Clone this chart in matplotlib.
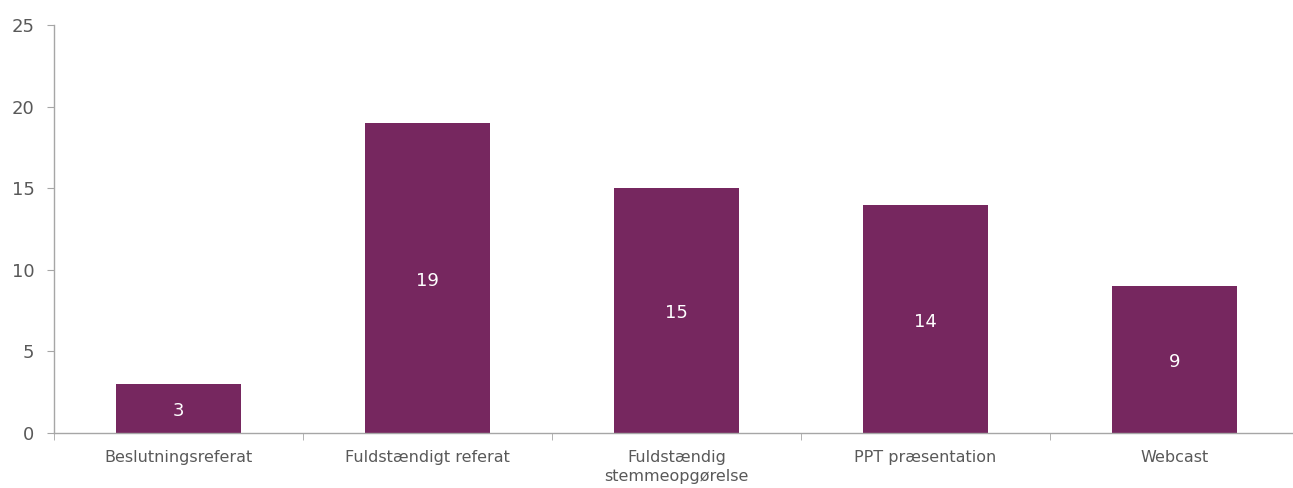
import matplotlib
matplotlib.use("Agg")
import matplotlib.pyplot as plt
import numpy as np

categories = ["Beslutningsreferat", "Fuldstændigt referat", "Fuldstændig\nstemmeopgørelse",
              "PPT præsentation", "Webcast"]
values = [3, 19, 15, 14, 9]
yticks = [0, 5, 10, 15, 20, 25]

bar_color = "#76275F"
text_color = "#595959"
axis_color = "#A6A6A6"

fig = plt.figure(figsize=(12.93, 4.88), dpi=100)
ax = fig.add_axes([54/1293, 55/488, 1245/1293, 408/488])

x = np.arange(len(categories))
bars = ax.bar(x, values, width=0.5, color=bar_color, zorder=2)
for xi, v in zip(x, values):
    ax.annotate(str(v), (xi, v / 2), xytext=(0, -2), textcoords="offset points",
                ha="center", va="center", color="white", fontsize=13)

ax.set_xlim(-0.5, len(categories) - 0.5)
ax.set_ylim(0, 25)
ax.set_yticks(yticks)
ax.set_yticklabels([str(t) for t in yticks], fontsize=13, color=text_color)

ax.set_xticks(x)
ax.set_xticklabels(categories, fontsize=11.5, color=text_color, linespacing=1.35)
ax.tick_params(axis="x", length=0, pad=12)
ax.set_xticks(np.arange(-0.5, len(categories), 1), minor=True)
ax.tick_params(axis="x", which="minor", length=5, color=axis_color, direction="out")
ax.tick_params(axis="y", length=5, color=axis_color, direction="out", pad=9)

for s in ["top", "right"]:
    ax.spines[s].set_visible(False)
for s in ["left", "bottom"]:
    ax.spines[s].set_color(axis_color)
    ax.spines[s].set_linewidth(1.0)

fig.savefig("out.png", dpi=100)
